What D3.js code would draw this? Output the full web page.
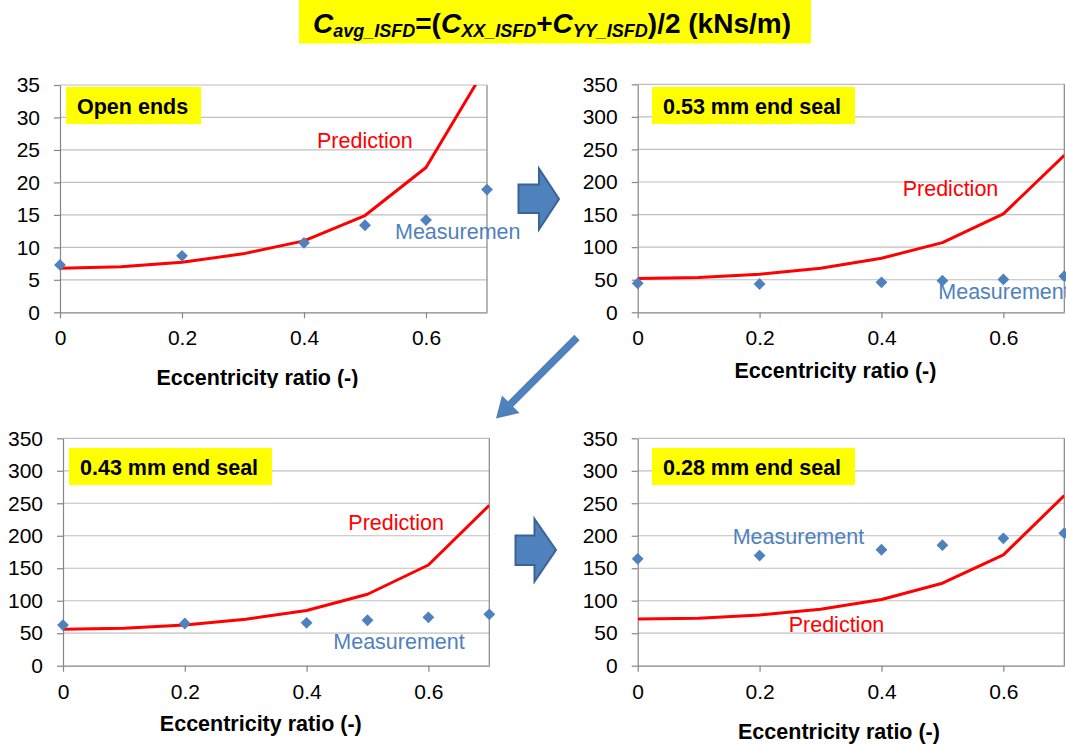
<!DOCTYPE html>
<html>
<head>
<meta charset="utf-8">
<script src="https://cdn.jsdelivr.net/npm/d3@7"></script>
<style>
  html, body { margin: 0; padding: 0; background: #ffffff; }
  svg { display: block; font-family: "Liberation Sans", Arial, sans-serif; }
</style>
</head>
<body>
<svg id="fig" width="1066" height="744"></svg>
<script>
// Eccentricity ratios at which the model and the test rig were evaluated
const eccPrediction = [0, 0.1, 0.2, 0.3, 0.4, 0.5, 0.6, 0.7];
const eccMeasurement = [0, 0.2, 0.4, 0.5, 0.6, 0.7];

// Average damping coefficient C_avg (kNs/m) per end condition
const predOpenEnds = [6.8, 7.0, 7.7, 9.0, 11.0, 14.9, 22.3, 38.0];
const measOpenEnds = [7.3, 8.7, 10.7, 13.4, 14.2, 18.9];

const predSeal053 = [52, 53.5, 58.5, 67.5, 83, 107, 151, 241];
const measSeal053 = [44.5, 43.5, 46, 48.5, 50.5, 55.5];

const predSeal043 = [56, 57.5, 62.5, 71.5, 85, 110, 155, 247];
const measSeal043 = [62.5, 65, 66, 70, 74.5, 79];

const predSeal028 = [72, 73, 78, 87, 102, 127, 170.5, 262];
const measSeal028 = [164.5, 169.5, 178.5, 185.5, 196, 204];

const panelTitles = ["Open ends", "0.53 mm end seal", "0.43 mm end seal", "0.28 mm end seal"];
const xTickValues = [0, 0.2, 0.4, 0.6];
const yTicksOpen = [0, 5, 10, 15, 20, 25, 30, 35];
const yTicksSeal = [0, 50, 100, 150, 200, 250, 300, 350];
const xAxisTitle = "Eccentricity ratio (-)";
const predictionLabel = "Prediction";
const measurementLabel = "Measurement";

const RED = "#FF0000";
const BLUE = "#4F81BD";
const YELLOW = "#FFFF00";
const AXIS = "#868686";
const GRID = "#BFBFBF";
const FS_TICK = 21;
const FS = 21.5;

// Layout of the four chart panels
const panels = [
  { title: panelTitles[0], pred: predOpenEnds, meas: measOpenEnds, yTicks: yTicksOpen,
    plot: { l: 60, r: 487, t: 85, b: 312.3 }, clip: { x: 0, y: 50, w: 520, h: 338 },
    box: { x: 66, y: 87, w: 135, h: 37 },
    predLab: { x: 317, y: 148 }, measLab: { x: 395, y: 239.3 },
    xTitle: { x: 257.5, y: 385 }, tickY: 337.7 },
  { title: panelTitles[1], pred: predSeal053, meas: measSeal053, yTicks: yTicksSeal,
    plot: { l: 637.7, r: 1064.3, t: 84.3, b: 312.3 }, clip: { x: 560, y: 50, w: 506, h: 345 },
    box: { x: 652, y: 87, w: 203, h: 37 },
    predLab: { x: 902.7, y: 195.7 }, measLab: { x: 938.3, y: 299.3 },
    xTitle: { x: 835.5, y: 377.5 }, tickY: 337.7 },
  { title: panelTitles[2], pred: predSeal043, meas: measSeal043, yTicks: yTicksSeal,
    plot: { l: 63, r: 489.3, t: 438.3, b: 665.7 }, clip: { x: 0, y: 410, w: 500, h: 334 },
    box: { x: 69, y: 448, w: 203, h: 37 },
    predLab: { x: 348.3, y: 530 }, measLab: { x: 333.3, y: 648.7 },
    xTitle: { x: 260.8, y: 731 }, tickY: 691.7 },
  { title: panelTitles[3], pred: predSeal028, meas: measSeal028, yTicks: yTicksSeal,
    plot: { l: 637.7, r: 1064.3, t: 438.3, b: 665.7 }, clip: { x: 560, y: 410, w: 506, h: 334 },
    box: { x: 652, y: 448, w: 203, h: 37 },
    predLab: { x: 788.7, y: 632.3 }, measLab: { x: 732.7, y: 544 },
    xTitle: { x: 839, y: 738.5 }, tickY: 691.7 }
];

const svg = d3.select("#fig");
const defs = svg.append("defs");

panels.forEach((p, i) => {
  const x = d3.scaleLinear().domain([0, 0.7]).range([p.plot.l, p.plot.r]);
  const yMax = p.yTicks[p.yTicks.length - 1];
  const y = d3.scaleLinear().domain([0, yMax]).range([p.plot.b, p.plot.t]);

  defs.append("clipPath").attr("id", "area" + i)
    .append("rect").attr("x", p.clip.x).attr("y", p.clip.y)
    .attr("width", p.clip.w).attr("height", p.clip.h);
  defs.append("clipPath").attr("id", "plot" + i)
    .append("rect").attr("x", p.plot.l).attr("y", p.plot.t)
    .attr("width", p.plot.r - p.plot.l).attr("height", p.plot.b - p.plot.t);

  const g = svg.append("g").attr("clip-path", `url(#area${i})`);

  // horizontal gridlines
  g.append("g").selectAll("line").data(p.yTicks.filter(v => v > 0)).join("line")
    .attr("x1", p.plot.l).attr("x2", p.plot.r)
    .attr("y1", d => y(d)).attr("y2", d => y(d))
    .attr("stroke", GRID).attr("stroke-width", 1.2);

  // right border of the plot area
  g.append("line")
    .attr("x1", p.plot.r).attr("x2", p.plot.r)
    .attr("y1", p.plot.t).attr("y2", p.plot.b)
    .attr("stroke", AXIS).attr("stroke-width", 1.2);

  // y axis
  const yAxis = g.append("g").attr("transform", `translate(${p.plot.l},0)`)
    .call(d3.axisLeft(y).tickValues(p.yTicks).tickSize(6).tickPadding(14).tickSizeOuter(0));
  yAxis.select(".domain").attr("stroke", AXIS).attr("stroke-width", 1.2);
  yAxis.selectAll(".tick line").attr("stroke", AXIS).attr("stroke-width", 1.2);
  yAxis.selectAll(".tick text")
    .attr("font-size", FS_TICK).attr("fill", "#000").attr("font-family", "Liberation Sans, Arial, sans-serif");

  // x axis
  const xAxis = g.append("g").attr("transform", `translate(0,${p.plot.b})`)
    .call(d3.axisBottom(x).tickValues(xTickValues).tickFormat(d3.format("")).tickSize(6).tickPadding(12).tickSizeOuter(0));
  xAxis.select(".domain").attr("stroke", AXIS).attr("stroke-width", 1.2);
  xAxis.selectAll(".tick line").attr("stroke", AXIS).attr("stroke-width", 1.2);
  xAxis.selectAll(".tick text")
    .attr("font-size", FS_TICK).attr("fill", "#000").attr("font-family", "Liberation Sans, Arial, sans-serif");

  // prediction curve
  const line = d3.line().x((d, k) => x(eccPrediction[k])).y(d => y(d));
  g.append("g").attr("clip-path", `url(#plot${i})`)
    .append("path").datum(p.pred)
    .attr("d", line)
    .attr("fill", "none").attr("stroke", RED).attr("stroke-width", 3)
    .attr("stroke-linejoin", "round");

  // measured points (diamonds)
  const diamond = d3.symbol().type(d3.symbolSquare).size(70);
  g.append("g").selectAll("path").data(p.meas).join("path")
    .attr("d", diamond)
    .attr("transform", (d, k) => `translate(${x(eccMeasurement[k])},${y(d)}) rotate(45)`)
    .attr("fill", BLUE);

  // panel label
  g.append("rect").attr("x", p.box.x).attr("y", p.box.y)
    .attr("width", p.box.w).attr("height", p.box.h).attr("fill", YELLOW);
  g.append("text").attr("x", p.box.x + 11).attr("y", p.box.y + 26.5)
    .attr("font-size", FS).attr("font-weight", "bold").attr("fill", "#000")
    .text(p.title);

  // series labels
  g.append("text").attr("x", p.predLab.x).attr("y", p.predLab.y)
    .attr("font-size", FS).attr("fill", RED).text(predictionLabel);
  g.append("text").attr("x", p.measLab.x).attr("y", p.measLab.y)
    .attr("font-size", FS).attr("fill", BLUE).text(measurementLabel);

  // x axis title
  g.append("text").attr("x", p.xTitle.x).attr("y", p.xTitle.y)
    .attr("text-anchor", "middle").attr("font-size", FS).attr("font-weight", "bold")
    .attr("fill", "#000").text(xAxisTitle);
});

// Heading: C_avg_ISFD = (C_XX_ISFD + C_YY_ISFD)/2 (kNs/m)
svg.append("rect").attr("x", 299).attr("y", 0).attr("width", 512).attr("height", 43.5).attr("fill", YELLOW);
const head = svg.append("text").attr("x", 552).attr("y", 32.5)
  .attr("text-anchor", "middle").attr("font-weight", "bold").attr("font-size", 28).attr("fill", "#000");
const parts = [
  { t: "C", it: true }, { t: "avg_ISFD", it: true, sub: true },
  { t: "=(" }, { t: "C", it: true }, { t: "XX_ISFD", it: true, sub: true },
  { t: "+" }, { t: "C", it: true }, { t: "YY_ISFD", it: true, sub: true },
  { t: ")/2 (kNs/m)" }
];
let shifted = false;
parts.forEach(pt => {
  const ts = head.append("tspan").text(pt.t);
  if (pt.it) ts.attr("font-style", "italic");
  if (pt.sub) { ts.attr("font-size", 18).attr("dy", shifted ? 0 : 4); shifted = true; }
  else if (shifted) { ts.attr("dy", -4); shifted = false; }
});

// Block arrows linking the panels
const arrowFill = "#4F81BD", arrowStroke = "#3A6494";
const blockArrow = (bx0, by0, bx1, by1, hy0, tipX, tipY, hy1) =>
  `M${bx0},${by0}L${bx1},${by0}L${bx1},${hy0}L${tipX},${tipY}L${bx1},${hy1}L${bx1},${by1}L${bx0},${by1}Z`;
svg.append("path").attr("d", blockArrow(518.5, 184.5, 539, 213, 168.5, 559, 199, 229.5))
  .attr("fill", arrowFill).attr("stroke", arrowStroke).attr("stroke-width", 2).attr("stroke-linejoin", "miter");
svg.append("path").attr("d", blockArrow(515.5, 535.5, 534.5, 565, 519, 556, 550, 581.5))
  .attr("fill", arrowFill).attr("stroke", arrowStroke).attr("stroke-width", 2).attr("stroke-linejoin", "miter");

// Diagonal arrow between the upper-right and lower-left panels
svg.append("line").attr("x1", 577).attr("y1", 337.5).attr("x2", 509).attr("y2", 405.5)
  .attr("stroke", arrowFill).attr("stroke-width", 7.5);
svg.append("path").attr("d", "M496,418.5L502,395.5L519.5,413Z").attr("fill", arrowFill);
</script>
</body>
</html>
